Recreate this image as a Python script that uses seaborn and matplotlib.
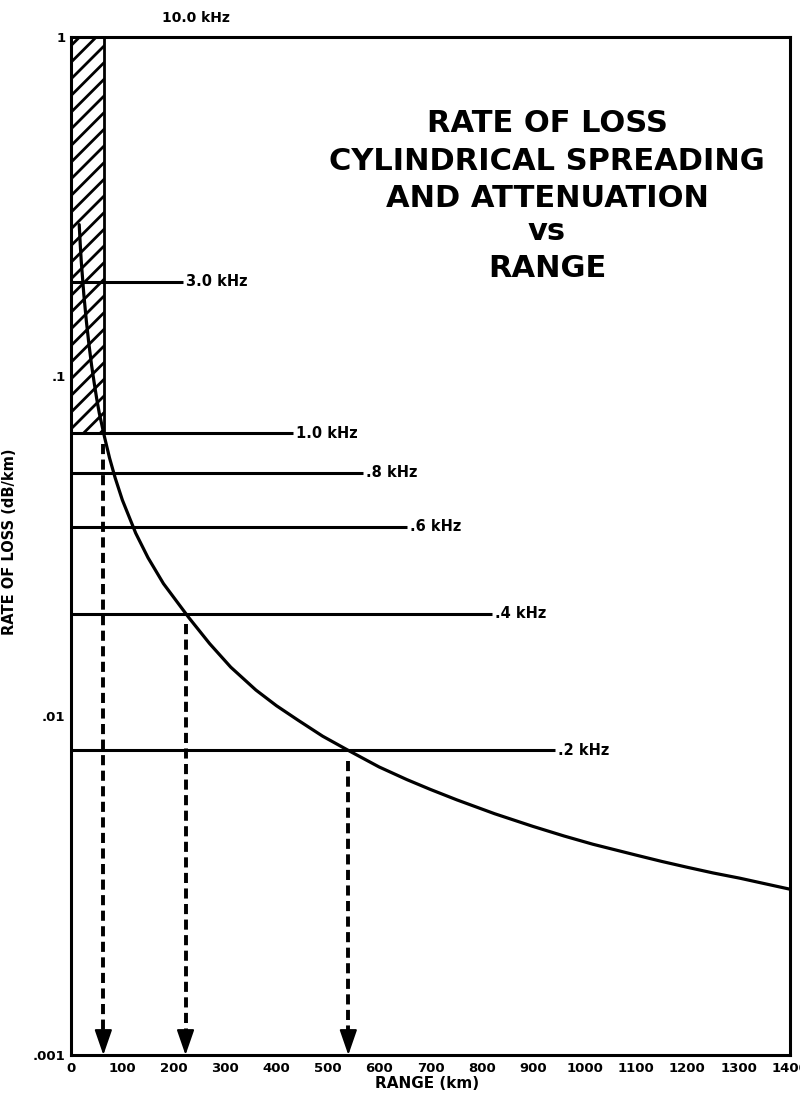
import matplotlib
matplotlib.use("Agg")
import matplotlib.pyplot as plt
from matplotlib.patches import Rectangle
from matplotlib.ticker import NullLocator, FixedLocator, FixedFormatter
import seaborn as sns
import pandas as pd

# ---------------- data ----------------
range_km = [16, 18, 20, 25, 30, 35, 40, 45, 50, 55, 65, 75, 86, 100, 126, 150,
            180, 205, 230, 270, 311, 360, 400, 442, 490, 540, 600, 654, 700,
            751, 825, 899, 960, 1016, 1101, 1150, 1198, 1250, 1302, 1350, 1400]
rate_db_per_km = [0.28, 0.245, 0.218, 0.174, 0.145, 0.124, 0.108, 0.096, 0.086,
                  0.078, 0.0665, 0.0575, 0.0502, 0.0432, 0.0345, 0.0292,
                  0.0245, 0.0218, 0.0194, 0.0163, 0.0139, 0.0119, 0.0107,
                  0.0097, 0.0087, 0.0079, 0.00706, 0.00648, 0.00606, 0.00565,
                  0.00514, 0.00472, 0.00442, 0.00418, 0.00388, 0.00372,
                  0.00358, 0.00344, 0.00332, 0.00320, 0.00308]

freq_labels = ["3.0 kHz", "1.0 kHz", ".8 kHz", ".6 kHz", ".4 kHz", ".2 kHz"]
freq_rates = [0.19, 0.068, 0.052, 0.036, 0.020, 0.0079]
top_freq_label = "10.0 kHz"

arrow_ranges = [63, 223, 540]
arrow_rates = [0.068, 0.020, 0.0079]

hatch_range = [0, 64]
hatch_rates = [0.068, 1.0]

x_ticks = list(range(0, 1401, 100))
y_ticks = [0.001, 0.01, 0.1, 1]
y_tick_labels = [".001", ".01", ".1", "1"]

title_lines = ["RATE OF LOSS", "CYLINDRICAL SPREADING", "AND ATTENUATION", "vs", "RANGE"]
x_label = "RANGE (km)"
y_label = "RATE OF LOSS (dB/km)"

# ---------------- layout (not data) ----------------
line_end_km = [218, 432, 568, 654, 819, 942]
title_baselines_px = [132, 170, 207, 240, 277]

sns.set_theme(style="white")
plt.rcParams["font.family"] = ["DejaVu Sans"]
plt.rcParams["hatch.linewidth"] = 2.0
plt.rcParams["axes.linewidth"] = 2.2

W, H = 800, 1097
fig = plt.figure(figsize=(W / 100, H / 100), dpi=100)
fig.patch.set_facecolor("white")
ax_l, ax_r, ax_t, ax_b = 71, 790, 37, 1055
ax = fig.add_axes([ax_l / W, 1 - ax_b / H, (ax_r - ax_l) / W, (ax_b - ax_t) / H])
ax.set_facecolor("white")
ax.set_yscale("log")
ax.set_xlim(0, 1400)
ax.set_ylim(0.001, 1)

for s in ax.spines.values():
    s.set_visible(True)
    s.set_color("black")
    s.set_linewidth(2.2)

# hatched region
ax.add_patch(Rectangle((hatch_range[0], hatch_rates[0]),
                       hatch_range[1] - hatch_range[0],
                       hatch_rates[1] - hatch_rates[0],
                       fill=False, hatch="//", edgecolor="black", lw=2.0, zorder=2))

# main curve
curve = pd.DataFrame({"range": range_km, "rate": rate_db_per_km})
sns.lineplot(data=curve, x="range", y="rate", ax=ax, color="black", lw=2.3,
             zorder=4, legend=False)

# frequency levels
for lab, lev, xe in zip(freq_labels, freq_rates, line_end_km):
    ax.plot([0, xe], [lev, lev], color="black", lw=2.2, zorder=3,
            solid_capstyle="butt")
    ax.text(xe + 6, lev, lab, ha="left", va="center", fontsize=10.5,
            fontweight="bold", color="black")

ax.text(177, 1 + (ax_t - 18) / (ax_b - ax_t), top_freq_label,
        transform=ax.get_xaxis_transform(),
        ha="left", va="center", fontsize=10, fontweight="bold", color="black")

# dashed drop lines with arrow heads
for r, lev in zip(arrow_ranges, arrow_rates):
    ax.plot([r, r], [lev * 0.93, 0.00118], color="black", lw=2.8,
            linestyle=(0, (2.6, 1.4)), zorder=3)
    ax.annotate("", xy=(r, 0.001), xytext=(r, 0.00113),
                arrowprops=dict(arrowstyle="-|>,head_length=1.3,head_width=0.45",
                                color="black", lw=1.5, shrinkA=0, shrinkB=0),
                zorder=5)

# ticks
ax.xaxis.set_major_locator(FixedLocator(x_ticks))
ax.set_xticklabels([str(t) for t in x_ticks])
ax.yaxis.set_major_locator(FixedLocator(y_ticks))
ax.yaxis.set_major_formatter(FixedFormatter(y_tick_labels))
ax.yaxis.set_minor_locator(NullLocator())
ax.tick_params(axis="both", which="major", direction="in", length=9, width=2,
               labelsize=9.5, color="black", labelcolor="black")
ax.tick_params(axis="x", pad=5)
ax.tick_params(axis="y", pad=4)
for t in ax.get_xticklabels() + ax.get_yticklabels():
    t.set_fontweight("bold")

ax.set_xlabel(x_label, fontsize=11, fontweight="bold", color="black")
ax.set_ylabel(y_label, fontsize=10.5, fontweight="bold", color="black")
ax.xaxis.set_label_coords((427 - ax_l) / (ax_r - ax_l), -(1076 - ax_b) / (ax_b - ax_t))
ax.yaxis.set_label_coords((17 - ax_l) / (ax_r - ax_l), (ax_b - 542) / (ax_b - ax_t))

# title block
for line, yb in zip(title_lines, title_baselines_px):
    fig.text(547 / W, 1 - yb / H, line, ha="center", va="baseline",
             fontsize=22, fontweight="bold", color="black")

fig.savefig("out.png", dpi=100, facecolor="white")
